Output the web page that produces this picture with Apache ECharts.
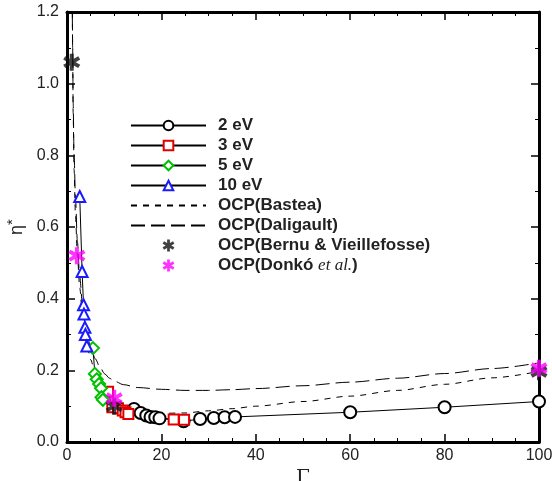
<!DOCTYPE html>
<html>
<head>
<meta charset="utf-8">
<script src="https://cdn.jsdelivr.net/npm/echarts@6/dist/echarts.min.js"></script>
<style>html,body{margin:0;padding:0;background:#fff}#c{width:552px;height:481px}</style>
</head>
<body>
<div id="c"></div>
<script>
// ---- data ----
const gamma2eV = [14.2, 15.6, 16.8, 17.7, 18.7, 19.6, 24.7, 28.2, 31.1, 33.4, 35.6, 60, 80, 100];
const eta2eV   = [0.092, 0.081, 0.074, 0.070, 0.069, 0.066, 0.058, 0.064, 0.067, 0.069, 0.070, 0.083, 0.097, 0.113];

const gamma3eV = [8.7, 9.6, 10.8, 11.8, 12.4, 13.0, 22.6, 24.8];
const eta3eV   = [0.140, 0.097, 0.094, 0.088, 0.083, 0.078, 0.063, 0.062];

const gamma5eV = [5.5, 5.9, 6.3, 6.8, 7.2, 7.3, 7.6];
const eta5eV   = [0.262, 0.190, 0.175, 0.162, 0.150, 0.125, 0.118];

const gamma10eV = [2.7, 3.2, 3.5, 3.6, 3.8, 3.9, 4.2];
const eta10eV   = [0.685, 0.476, 0.383, 0.357, 0.320, 0.300, 0.268];

const gammaBastea = [1.1, 1.2, 1.3, 1.5, 1.8, 2.2, 2.7, 3.3, 4, 5, 6, 7, 8, 9, 10, 12, 15, 20, 25, 30, 35, 40, 50, 60, 70, 80, 90, 100];
const etaBastea   = [1.3, 1.1, 0.92, 0.76, 0.63, 0.52, 0.43, 0.35, 0.29, 0.23, 0.19, 0.16, 0.14, 0.123, 0.112, 0.097, 0.086, 0.080, 0.081, 0.087, 0.093, 0.100, 0.113, 0.128, 0.144, 0.161, 0.179, 0.197];

const gammaDaligault = [1.1, 1.2, 1.3, 1.5, 1.8, 2.2, 2.7, 3.3, 4, 5, 6, 7, 8, 9, 10, 12, 15, 20, 25, 30, 35, 40, 50, 60, 70, 80, 90, 100];
const etaDaligault   = [1.25, 1.1, 0.95, 0.8, 0.68, 0.56, 0.46, 0.38, 0.32, 0.265, 0.232, 0.208, 0.19, 0.178, 0.17, 0.16, 0.152, 0.147, 0.144, 0.144, 0.146, 0.149, 0.157, 0.167, 0.178, 0.191, 0.205, 0.221];

const gammaBernu = [1, 10, 100];
const etaBernu   = [1.06, 0.10, 0.196];

const gammaDonko = [2.1, 10, 100];
const etaDonko   = [0.52, 0.122, 0.206];

const xTicks = [0, 20, 40, 60, 80, 100];
const yTicks = [0.0, 0.2, 0.4, 0.6, 0.8, 1.0, 1.2];

const seriesNames = ['2 eV', '3 eV', '5 eV', '10 eV', 'OCP(Bastea)', 'OCP(Daligault)', 'OCP(Bernu & Vieillefosse)', 'OCP(Donkó et al.)'];

// ---- helpers ----
const zip = (xs, ys) => xs.map((x, i) => [x, ys[i]]);

function asteriskPath(w) {
  const pts = [];
  const r = 10, hw = w * r / 2, inner = w * r;
  for (let k = 0; k < 6; k++) {
    const th = (90 - 60 * k) * Math.PI / 180;
    const ux = Math.cos(th), uy = -Math.sin(th);
    const px = Math.sin(th), py = Math.cos(th);
    const thIn = th + 30 * Math.PI / 180;
    pts.push([inner * Math.cos(thIn), -inner * Math.sin(thIn)]);
    pts.push([r * ux - hw * px, r * uy - hw * py]);
    pts.push([r * ux + hw * px, r * uy + hw * py]);
  }
  return 'path://M' + pts.map(p => p[0].toFixed(3) + ',' + p[1].toFixed(3)).join('L') + 'Z';
}
const star = asteriskPath(0.46);

const chart = echarts.init(document.getElementById('c'), null, {renderer: 'canvas'});

const labelFont = {fontFamily: 'Liberation Sans, Arial, sans-serif', fontSize: 16, color: '#222'};

function xAx(pos, show) {
  return {
    type: 'value', position: pos, min: 0, max: 100, interval: 20,
    axisLine: {show: true, onZero: false, lineStyle: {color: '#000', width: 3}},
    axisTick: {show: true, inside: true, length: 8, lineStyle: {color: '#000', width: 1.5}},
    minorTick: {show: true, splitNumber: 4, length: 4, lineStyle: {color: '#000', width: 1}},
    splitLine: {show: false},
    axisLabel: Object.assign({show: show, margin: 6, formatter: v => xTicks.includes(v) ? String(v) : ''}, labelFont),
    name: show ? 'Γ' : '', nameLocation: 'middle', nameGap: 17,
    nameTextStyle: {fontFamily: 'DejaVu Serif, Liberation Serif, serif', fontSize: 20, color: '#222'}
  };
}
function yAx(pos, show) {
  return {
    type: 'value', position: pos, min: 0, max: 1.2, interval: 0.2,
    axisLine: {show: true, onZero: false, lineStyle: {color: '#000', width: 3}},
    axisTick: {show: true, inside: true, length: 8, lineStyle: {color: '#000', width: 1.5}},
    minorTick: {show: true, splitNumber: 2, length: 4, lineStyle: {color: '#000', width: 1}},
    splitLine: {show: false},
    axisLabel: Object.assign({show: show, margin: 8, formatter: v => v.toFixed(1)}, labelFont),
    name: show ? '{e|η}{s|*}' : '', nameLocation: 'middle', nameGap: 31,
    nameTextStyle: {
      rich: {
        e: {fontFamily: 'Liberation Sans, Arial, sans-serif', fontSize: 18, color: '#222'},
        s: {fontFamily: 'Liberation Sans, Arial, sans-serif', fontSize: 15, color: '#222', verticalAlign: 'top', padding: [0, 0, 8, 0]}
      }
    }
  };
}

function dataSeries(name, xs, ys, symbol, size, color) {
  return {
    name: name, type: 'line', xAxisIndex: 0, yAxisIndex: 0,
    data: zip(xs, ys), symbol: symbol, symbolSize: size, showAllSymbol: true,
    itemStyle: {color: color, borderColor: color, borderWidth: 1.3},
    lineStyle: {color: '#000', width: 1},
    z: 5
  };
}
function curveSeries(name, xs, ys, dash) {
  return {
    name: name, type: 'line', xAxisIndex: 0, yAxisIndex: 0,
    data: zip(xs, ys), symbol: 'none', smooth: 0.3, smoothMonotone: 'x',
    lineStyle: {color: '#000', width: 1, type: dash},
    itemStyle: {color: '#000'},
    z: 3
  };
}
function starSeries(name, xs, ys, color) {
  return {
    name: name, type: 'scatter', xAxisIndex: 0, yAxisIndex: 0,
    data: zip(xs, ys), symbol: star, symbolSize: 17,
    itemStyle: {color: color}, z: 6
  };
}

const hidden = {color: 'rgba(0,0,0,0)', borderColor: 'rgba(0,0,0,0)', borderWidth: 0, opacity: 0};

chart.setOption({
  animation: false,
  backgroundColor: '#fff',
  grid: {left: 67, right: 13, top: 12, bottom: 39, containLabel: false, outerBoundsMode: 'none'},
  xAxis: [xAx('bottom', true), xAx('top', false)],
  yAxis: [yAx('left', true), yAx('right', false)],
  legend: {
    orient: 'vertical', left: 130, top: 117, padding: 0,
    itemWidth: 75, itemHeight: 12, itemGap: 3, selectedMode: false,
    textStyle: {fontFamily: 'Liberation Sans, Arial, sans-serif', fontSize: 17, lineHeight: 17, fontWeight: 'bold', color: '#222', padding: [0, 0, 0, 7],
      rich: {it: {fontFamily: 'Liberation Serif, serif', fontStyle: 'italic', fontSize: 17, lineHeight: 17, fontWeight: 'normal', color: '#222'},
             b: {fontFamily: 'Liberation Sans, Arial, sans-serif', fontSize: 17, lineHeight: 17, fontWeight: 'bold', color: '#222'}}},
    formatter: function (n) {
      if (n === seriesNames[7]) return '{b|OCP(Donkó }{it|et al.}{b|)}';
      return n;
    },
    data: seriesNames.map((n, i) => i >= 6 ? {name: n, icon: star} : (i >= 4 ? {name: n, itemStyle: hidden} : {name: n}))
  },
  series: [
    dataSeries(seriesNames[0], gamma2eV, eta2eV, 'emptyCircle', 12, '#000'),
    dataSeries(seriesNames[1], gamma3eV, eta3eV, 'emptyRect', 10, '#e00000'),
    dataSeries(seriesNames[2], gamma5eV, eta5eV, 'emptyDiamond', 12, '#00c000'),
    dataSeries(seriesNames[3], gamma10eV, eta10eV, 'emptyTriangle', 11, '#1a1aff'),
    curveSeries(seriesNames[4], gammaBastea, etaBastea, [6, 6]),
    curveSeries(seriesNames[5], gammaDaligault, etaDaligault, [14, 6]),
    starSeries(seriesNames[6], gammaBernu, etaBernu, '#111'),
    starSeries(seriesNames[7], gammaDonko, etaDonko, '#ff00ff')
  ]
});
</script>
</body>
</html>
